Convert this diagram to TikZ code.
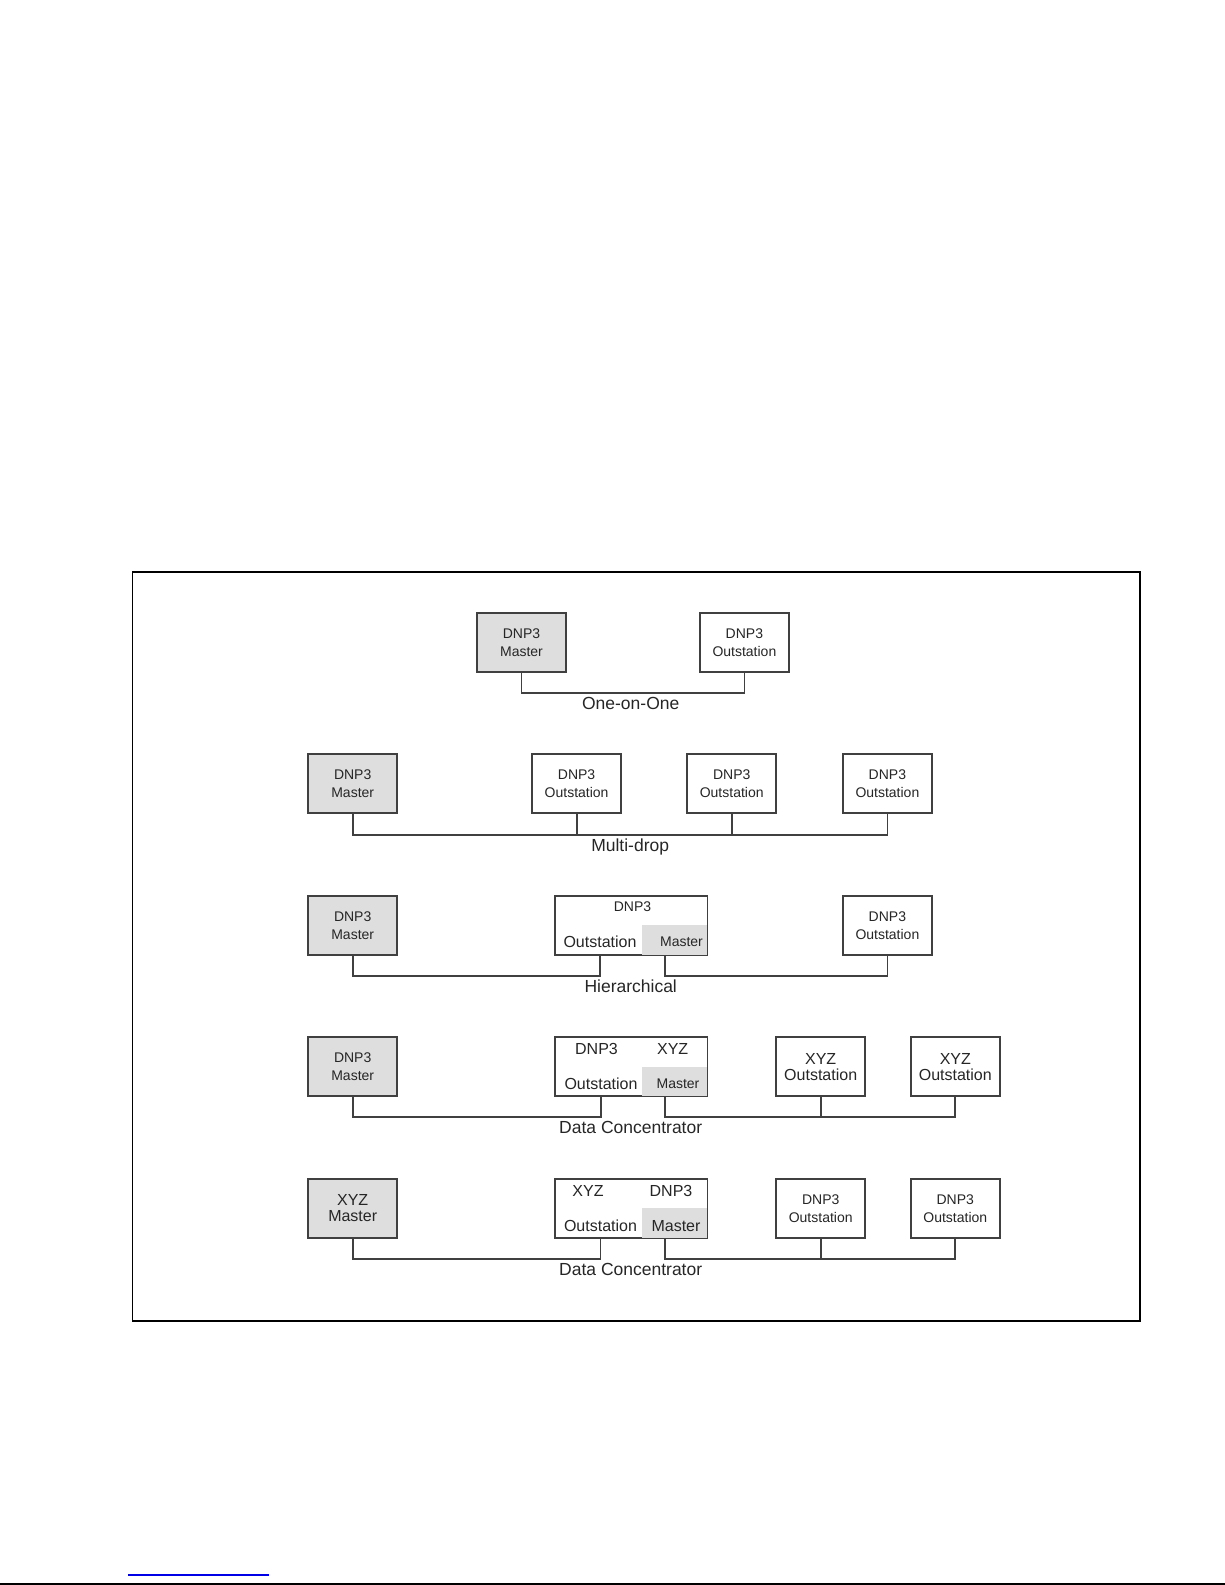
\documentclass[tikz,border=0pt]{standalone}
\usepackage{fontspec}
\setmainfont{Liberation Sans}
\definecolor{boxgray}{RGB}{222,222,222}
\definecolor{linegray}{RGB}{64,64,64}
\definecolor{txtgray}{RGB}{38,38,38}
\definecolor{ruleblue}{RGB}{0,0,230}
\tikzstyle{unit} = [rectangle, minimum width=89pt, minimum height=59pt, inner sep=0pt, align=center, draw=linegray, line width=1.8pt, text=txtgray, font=\fontsize{14}{18}\selectfont]
\tikzstyle{master} = [unit, fill=boxgray]
\tikzstyle{outstation} = [unit, fill=white]
\tikzstyle{xyz} = [font=\fontsize{16}{16}\selectfont]
\tikzstyle{concentrator} = [rectangle, minimum width=152.5pt, minimum height=59pt, inner sep=0pt, draw=linegray, line width=1.8pt, fill=white]
\tikzstyle{cell} = [rectangle, minimum width=65pt, minimum height=29.5pt, inner sep=0pt, fill=boxgray]
\tikzstyle{small} = [inner sep=0pt, text=txtgray, font=\fontsize{14}{18}\selectfont]
\tikzstyle{big} = [inner sep=0pt, text=txtgray, font=\fontsize{16}{18}\selectfont]
\tikzstyle{link} = [line width=1.8pt, draw=linegray]
\tikzstyle{caption} = [inner sep=0pt, anchor=base, text=txtgray, font=\fontsize{17.5}{20}\selectfont]

\begin{document}
\begin{tikzpicture}[x=1pt, y=-1pt, node distance=141.5pt]
\useasboundingbox (0,0) rectangle (1225,1585);
\draw[line width=1.5pt] (132.4,572) rectangle (1140,1321);

% one-on-one
\node (m1) [master] at (521.5,642.8) {DNP3\\Master};
\node (o1) [outstation] at (744.4,642.8) {DNP3\\Outstation};
\coordinate (b1) at (630.7,692.7);
\draw [link] (m1.south) -- (m1.south |- b1) -| (o1.south);
\node (cap1) [caption] at ([yshift=-16.3pt]b1) {One-on-One};

% multi-drop
\node (m2) [master] at (352.7,783.8) {DNP3\\Master};
\node (o21) [outstation] at (576.6,783.8) {DNP3\\Outstation};
\node (o22) [outstation] at (731.7,783.8) {DNP3\\Outstation};
\node (o23) [outstation] at (887.4,783.8) {DNP3\\Outstation};
\coordinate (b2) at (630.2,834.8);
\draw [link] (m2.south) -- (m2.south |- b2) -| (o23.south);
\draw [link] (o21.south) -- (o21.south |- b2);
\draw [link] (o22.south) -- (o22.south |- b2);
\node (cap2) [caption] at ([yshift=-16.3pt]b2) {Multi-drop};

% hierarchical
\node (m3) [master, below of=m2] {DNP3\\Master};
\node (c3) [concentrator] at (631.2,925.3) {};
\node (g3) [cell, anchor=south east] at ([xshift=-0.9pt, yshift=0.9pt]c3.south east) {};
\node (c3top) [small] at (632.5,907) {DNP3};
\node (c3out) [big] at (600,941.5) {Outstation};
\node (c3ms) [small] at (681.5,941.5) {Master};
\coordinate (c3m) at ([xshift=34pt]c3.south);
\node (o3) [outstation, below of=o23] {DNP3\\Outstation};
\coordinate (b3) at (630.7,976.3);
\draw [link] (m3.south) -- (m3.south |- b3) -| (c3.south -| c3out);
\draw [link] (c3m) -- (c3m |- b3) -| (o3.south);
\node (cap3) [caption] at ([yshift=-16.3pt]b3) {Hierarchical};

% data concentrator, DNP3 to XYZ
\node (m4) [master, below of=m3] {DNP3\\Master};
\node (c4) [concentrator, below of=c3] {};
\node (g4) [cell, anchor=south east] at ([xshift=-0.9pt, yshift=0.9pt]c4.south east) {};
\node (c4a) [big] at (596.5,1049) {DNP3};
\node (c4b) [big] at (672.7,1049) {XYZ};
\node (c4out) [big] at (601,1083.5) {Outstation};
\node (c4ms) [small] at (678,1083.5) {Master};
\coordinate (c4m) at ([xshift=34pt]c4.south);
\node (o41) [outstation, xyz] at (820.7,1066.8) {XYZ\\Outstation};
\node (o42) [outstation, xyz] at (955.3,1066.8) {XYZ\\Outstation};
\coordinate (b4) at (630.7,1116.8);
\draw [link] (m4.south) -- (m4.south |- b4) -| (c4.south -| c4out);
\draw [link] (c4m) -- (c4m |- b4) -| (o42.south);
\draw [link] (o41.south) -- (o41.south |- b4);
\node (cap4) [caption] at ([yshift=-16.3pt]b4) {Data Concentrator};

% data concentrator, XYZ to DNP3
\node (m5) [master, xyz, below of=m4] {XYZ\\Master};
\node (c5) [concentrator, below of=c4] {};
\node (g5) [cell, anchor=south east] at ([xshift=-0.9pt, yshift=0.9pt]c5.south east) {};
\node (c5a) [big] at (588,1191) {XYZ};
\node (c5b) [big] at (671,1191) {DNP3};
\node (c5out) [big] at (600.5,1226) {Outstation};
\node (c5ms) [big] at (676,1226) {Master};
\coordinate (c5m) at ([xshift=34pt]c5.south);
\node (o51) [outstation, below of=o41] {DNP3\\Outstation};
\node (o52) [outstation, below of=o42] {DNP3\\Outstation};
\coordinate (b5) at (630.7,1259.3);
\draw [link] (m5.south) -- (m5.south |- b5) -| (c5.south -| c5out);
\draw [link] (c5m) -- (c5m |- b5) -| (o52.south);
\draw [link] (o51.south) -- (o51.south |- b5);
\node (cap5) [caption] at ([yshift=-16.3pt]b5) {Data Concentrator};

% page rules
\draw [ruleblue, line width=1.5pt] (128,1575) -- (269,1575);
\draw [line width=2pt] (0,1584) -- (1225,1584);
\end{tikzpicture}
\end{document}
